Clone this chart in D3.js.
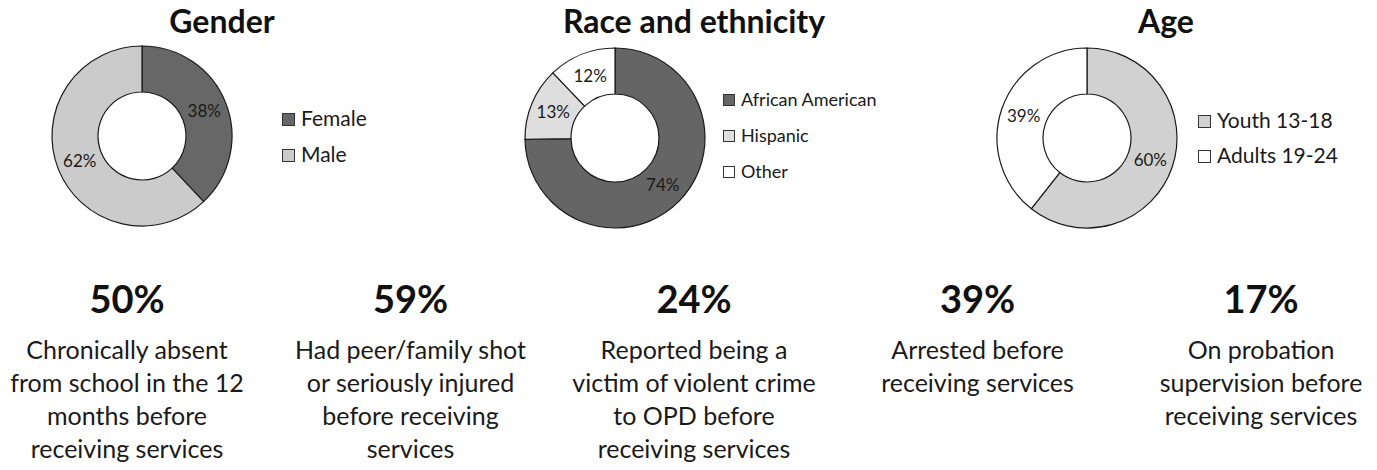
<!DOCTYPE html>
<html>
<head>
<meta charset="utf-8">
<script src="https://cdn.jsdelivr.net/npm/d3@7"></script>
<style>
  body { margin: 0; background: #fff; }
  svg { display: block; font-family: Lato, "Open Sans", sans-serif; }
</style>
</head>
<body>
<div id="chart"></div>
<script>
// donut data
var genderLabels = ["Female", "Male"];
var genderValues = [38, 62];
var raceLabels = ["African American", "Hispanic", "Other"];
var raceValues = [74, 13, 12];
var ageLabels = ["Youth 13-18", "Adults 19-24"];
var ageValues = [60, 39];

// headline stats
var statValues = [50, 59, 24, 39, 17];
var statLines = [
    ["Chronically absent", "from school in the 12", "months before", "receiving services"],
    ["Had peer/family shot", "or seriously injured", "before receiving", "services"],
    ["Reported being a", "victim of violent crime", "to OPD before", "receiving services"],
    ["Arrested before", "receiving services"],
    ["On probation", "supervision before", "receiving services"]
];

var width = 1377, height = 470;

var svg = d3.select("#chart").append("svg")
    .attr("width", width)
    .attr("height", height);

var panels = [
    { title: "Gender", labels: genderLabels, values: genderValues,
      fills: ["#676767", "#cbcbcb"],
      cx: 142, cy: 136, titleX: 222,
      legendX: 282, legendY: 126, legendStep: 36, legendFont: 21, swatch: 13 },
    { title: "Race and ethnicity", labels: raceLabels, values: raceValues,
      fills: ["#656565", "#dedede", "#ffffff"],
      cx: 615, cy: 138, titleX: 694,
      legendX: 723, legendY: 106, legendStep: 36, legendFont: 18, swatch: 12 },
    { title: "Age", labels: ageLabels, values: ageValues,
      fills: ["#d1d1d1", "#ffffff"],
      cx: 1087, cy: 138, titleX: 1166,
      legendX: 1198, legendY: 128, legendStep: 35, legendFont: 21, swatch: 13 }
];

var outerR = 90, innerR = 44;

var pie = d3.pie().sort(null).value(function (d) { return d; });
var arc = d3.arc().innerRadius(innerR).outerRadius(outerR);
var labelArc = d3.arc().innerRadius((innerR + outerR) / 2).outerRadius((innerR + outerR) / 2);

panels.forEach(function (p) {
    svg.append("text")
        .attr("x", p.titleX)
        .attr("y", 33)
        .attr("text-anchor", "middle")
        .attr("font-size", 32)
        .attr("font-weight", "bold")
        .attr("fill", "#111")
        .text(p.title);

    var g = svg.append("g")
        .attr("transform", "translate(" + p.cx + "," + p.cy + ")");

    var arcs = pie(p.values);

    g.selectAll("path")
        .data(arcs)
        .enter().append("path")
        .attr("d", arc)
        .attr("fill", function (d, i) { return p.fills[i]; })
        .attr("stroke", "#1a1a1a")
        .attr("stroke-width", 1.2);

    g.selectAll("text")
        .data(arcs)
        .enter().append("text")
        .attr("transform", function (d) { return "translate(" + labelArc.centroid(d) + ")"; })
        .attr("dy", "0.35em")
        .attr("text-anchor", "middle")
        .attr("font-size", 17)
        .attr("fill", "#1a1a1a")
        .text(function (d) { return d.data + "%"; });

    var legend = svg.append("g");
    var items = legend.selectAll("g")
        .data(p.labels)
        .enter().append("g")
        .attr("transform", function (d, i) {
            return "translate(" + p.legendX + "," + (p.legendY + i * p.legendStep) + ")";
        });

    items.append("rect")
        .attr("x", 0.5)
        .attr("y", -p.swatch + 0.5)
        .attr("width", p.swatch - 1)
        .attr("height", p.swatch - 1)
        .attr("fill", function (d, i) { return p.fills[i]; })
        .attr("stroke", "#333")
        .attr("stroke-width", 1);

    items.append("text")
        .attr("x", p.swatch + 6)
        .attr("y", 0)
        .attr("font-size", p.legendFont)
        .attr("fill", "#1a1a1a")
        .text(function (d) { return d; });
});

// stat columns
var x = d3.scalePoint()
    .domain(d3.range(statValues.length))
    .range([127, 1261]);

var cols = svg.selectAll("g.stat")
    .data(statValues)
    .enter().append("g")
    .attr("class", "stat")
    .attr("transform", function (d, i) { return "translate(" + x(i) + ",0)"; });

cols.append("text")
    .attr("y", 313)
    .attr("text-anchor", "middle")
    .attr("font-size", 38)
    .attr("font-weight", "bold")
    .attr("fill", "#111")
    .text(function (d) { return d + "%"; });

cols.each(function (d, i) {
    d3.select(this).selectAll("text.line")
        .data(statLines[i])
        .enter().append("text")
        .attr("class", "line")
        .attr("y", function (t, j) { return 359 + j * 33; })
        .attr("text-anchor", "middle")
        .attr("font-size", 25)
        .attr("fill", "#1a1a1a")
        .text(function (t) { return t; });
});
</script>
</body>
</html>
